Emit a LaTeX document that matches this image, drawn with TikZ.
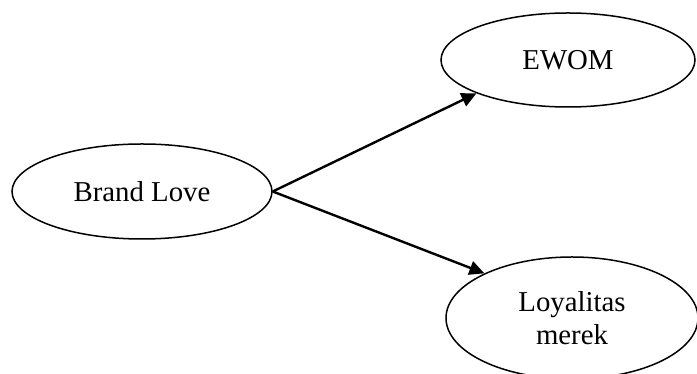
\documentclass[tikz,border=0pt]{standalone}
\usepackage{fontspec}
\setmainfont{Liberation Serif}
\usetikzlibrary{shapes.geometric,arrows.meta}
\begin{document}
\begin{tikzpicture}[x=1pt,y=1pt,
  oval/.style={ellipse,draw,line width=1.5pt,inner sep=0pt,align=center,
    font=\fontsize{28.8}{33}\selectfont},
  link/.style={line width=2.4pt,-{Triangle[length=15pt,width=14pt]}}]
\clip (0,0) rectangle (697,374);
\useasboundingbox (0,0) rectangle (697,374);
\node[oval,minimum width=260pt,minimum height=95pt] (bl) at (142,182.5) {Brand Love};
\node[oval,minimum width=254pt,minimum height=94pt] (ewom) at (568,314) {EWOM};
\node[oval,minimum width=252pt,minimum height=122pt] (loy) at (572,56) {Loyalitas\\merek};
\draw[link] (bl.east) -- (ewom.200);
\draw[link] (bl.east) -- (loy.153);
\end{tikzpicture}
\end{document}
